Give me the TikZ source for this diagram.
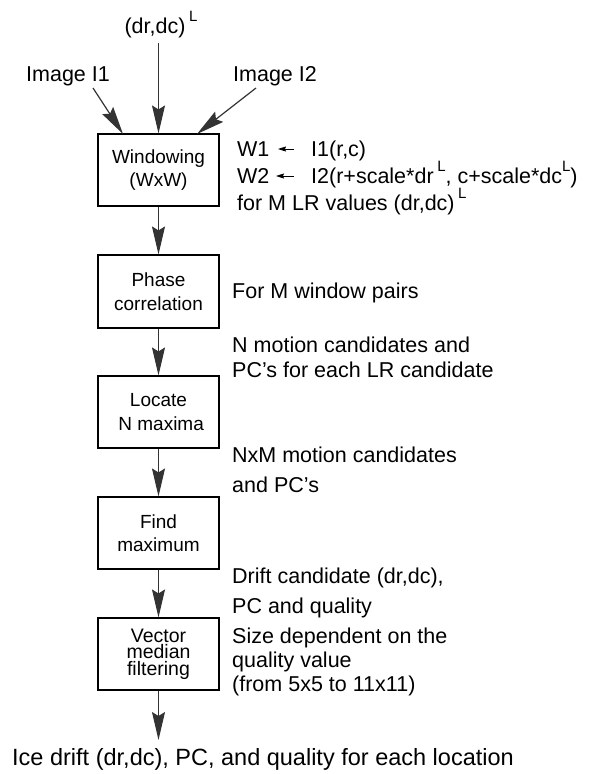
\documentclass[tikz,border=0pt]{standalone}
\usepackage{fontspec}
\setmainfont{Liberation Sans}
\usetikzlibrary{arrows.meta}
\newcommand\supL{\raisebox{0.55em}{\fontsize{15}{15}\selectfont L}}
\tikzset{
  stepbox/.style={draw, line width=1.1pt, minimum width=121pt, inner sep=0pt, align=center,
                  font=\fontsize{19}{23.5}\selectfont},
  flow/.style={draw=black!80, line width=1.2pt,
               -{Stealth[length=28pt,width=13pt,inset=4pt]}},
  small/.style={draw, line width=0.8pt, -{Stealth[length=8pt,width=5pt,inset=1pt]}},
  note/.style={anchor=base west, inner sep=0pt, font=\fontsize{21.5}{25}\selectfont},
  wnote/.style={anchor=base west, inner sep=0pt, font=\fontsize{21.5}{24}\selectfont},
}
\begin{document}
\begin{tikzpicture}[x=1pt,y=-1pt]
\useasboundingbox (0,0) rectangle (591,774);

% processing chain
\node[stepbox, minimum height=72pt] (win) at (158.5,170) {Windowing\\(WxW)};
\node[stepbox, minimum height=73pt] (pc)  at (158.5,291.5) {Phase\\correlation};
\node[stepbox, minimum height=72pt] (loc) at (158.5,412) {Locate\\\ N maxima};
\node[stepbox, minimum height=72pt] (fm)  at (158.5,533) {Find\\maximum};
\node[stepbox, minimum height=72pt, font=\fontsize{19.5}{16.5}\selectfont] (vm) at (158.5,654)
  {Vector\\median\\filtering};

\draw[flow] (win) -- (pc);
\draw[flow] (pc) -- (loc);
\draw[flow] (loc) -- (fm);
\draw[flow] (fm) -- (vm);

% inputs
\node[anchor=base, inner sep=0pt, font=\fontsize{21.5}{25}\selectfont] (dl) at (161,33) {(dr,dc)\,\supL};
\node[anchor=base west, inner sep=0pt, font=\fontsize{21.5}{25}\selectfont] (im1) at (26,81) {Image I1};
\node[anchor=base west, inner sep=0pt, font=\fontsize{21.5}{25}\selectfont] (im2) at (233,81) {Image I2};
\coordinate (dtail) at (158.5,43);
\coordinate (i1tail) at (93,88);
\coordinate (i2tail) at (256,88);
\coordinate (i1tip) at (123,134);
\coordinate (i2tip) at (197,134);
\draw[flow] (dtail) -- (win.north);
\draw[flow] (i1tail) -- (i1tip);
\draw[flow] (i2tail) -- (i2tip);

% output
\node[anchor=base, inner sep=0pt, font=\fontsize{23.5}{27}\selectfont] (out) at (263,765)
  {Ice drift (dr,dc), PC, and quality for each location};
\coordinate (otip) at (158.5,740);
\draw[flow] (vm) -- (otip);

% window assignment
\node[wnote] (w1) at (237,156) {W1};
\node[wnote] (w1v) at (311,156) {I1(r,c)};
\node[wnote] (w2) at (237,183) {W2};
\node[wnote] (w2v) at (311,183) {I2(r+scale*dr\,\supL, c+scale*dc\supL)};
\node[wnote] (lr) at (237,210) {for M LR values (dr,dc)\,\supL};
\coordinate (a1) at (294,149);
\coordinate (a1t) at (278,149);
\coordinate (a2) at (294,176);
\coordinate (a2t) at (276,176);
\draw[small] (a1) -- (a1t);
\draw[small] (a2) -- (a2t);

% annotations
\node[note] (t1) at (232,298) {For M window pairs};
\node[note] (t2) at (232,352) {N motion candidates and};
\node[note] (t3) at (232,377) {PC's for each LR candidate};
\node[note] (t4) at (232,462) {NxM motion candidates};
\node[note] (t5) at (232,492) {and PC's};
\node[note] (t6) at (232,583) {Drift candidate (dr,dc),};
\node[note] (t7) at (232,613) {PC and quality};
\node[note] (t8) at (232,643) {Size dependent on the};
\node[note] (t9) at (232,667) {quality value};
\node[note] (t10) at (232,691) {(from 5x5 to 11x11)};
\end{tikzpicture}
\end{document}
